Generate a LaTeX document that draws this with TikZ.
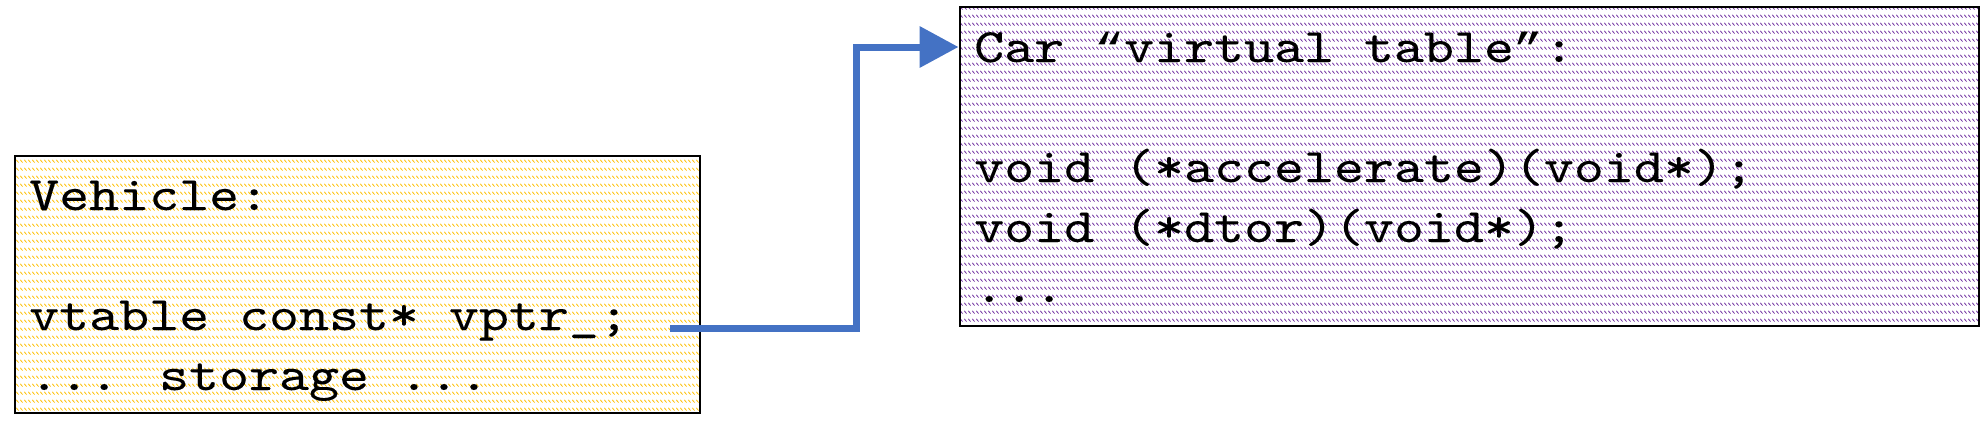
\documentclass[tikz,border=0pt]{standalone}
\usepackage{fontspec}
\usetikzlibrary{arrows.meta,patterns}
\newfontfamily\codefont{lmmono10-regular.otf}[FakeStretch=1.19, FakeBold=0.12]
\newfontfamily\quotefont{Liberation Mono}[FakeStretch=1.19]
\definecolor{vyellow}{HTML}{FFC000}
\definecolor{vpurple}{HTML}{7030A0}
\definecolor{arrowblue}{HTML}{4472C4}
\pgfdeclarepatternformonly{dashrows}{\pgfqpoint{0pt}{0pt}}{\pgfqpoint{4pt}{8pt}}{\pgfqpoint{4pt}{8pt}}{%
  \pgfsetlinewidth{0.9pt}%
  \pgfpathmoveto{\pgfqpoint{0.3pt}{3.5pt}}%
  \pgfpathlineto{\pgfqpoint{3.3pt}{0.5pt}}%
  \pgfusepath{stroke}}
\newcommand{\qmark}[1]{{\quotefont\fontsize{42}{60}\selectfont #1}}
\tikzset{
  membox/.style={draw=black, line width=2pt, pattern=dashrows, inner sep=0pt},
  codetext/.style={anchor=base west, inner sep=0pt, font=\codefont\fontsize{48}{60}\selectfont},
  conn/.style={draw=arrowblue, line width=7pt, -{Triangle[length=39pt,width=40pt]}}
}
\begin{document}
\begin{tikzpicture}[x=1pt,y=-1pt]
\useasboundingbox (0,0) rectangle (1981,434);
% boxes
\node[membox, pattern color=vyellow, minimum width=685pt, minimum height=257pt] (vehicle) at (357.5,284.5) {};
\node[membox, pattern color=vpurple, minimum width=1019pt, minimum height=319pt] (vtable) at (1469.5,166.5) {};
% left text
\node[codetext] (v1) at (29,210) {Vehicle:};
\node[codetext] (v2) at (29,330) {vtable const* vptr\_;};
\node[codetext] (v3) at (29,390) {... storage ...};
% right text
\node[codetext] (t1) at (974,62) {Car \qmark{“}virtual table\qmark{”}:};
\node[codetext] (t2) at (974,182) {void (*accelerate)(void*);};
\node[codetext] (t3) at (974,242) {void (*dtor)(void*);};
\node[codetext] (t4) at (974,302) {...};
% connector
\coordinate (vptr) at (670,328);
\coordinate (vtarget) at (958.5,47);
\draw[conn] (vptr) -- (856.5,328) |- (vtarget);
\end{tikzpicture}
\end{document}
